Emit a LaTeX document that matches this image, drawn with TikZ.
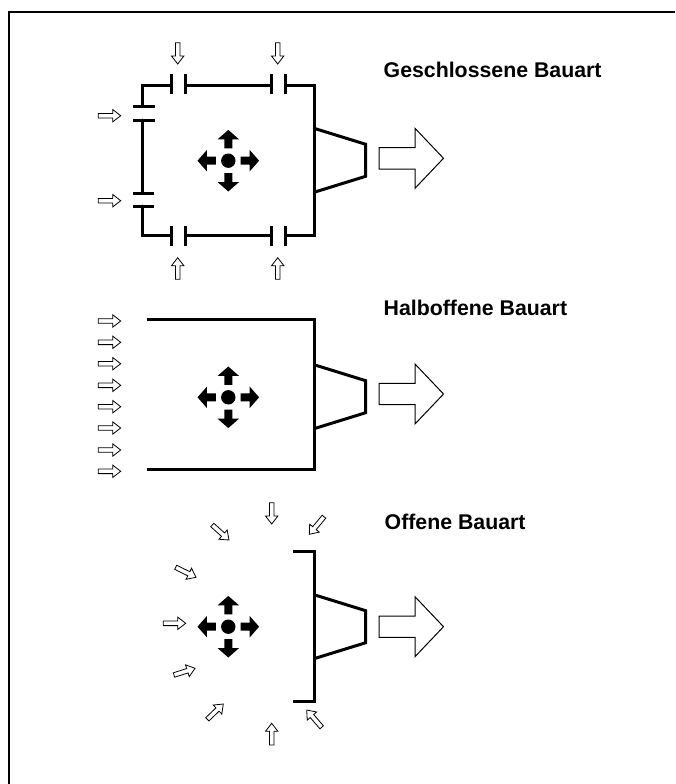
\documentclass[tikz,border=0pt]{standalone}
\usepackage{fontspec}
\setmainfont{Liberation Sans}
\tikzset{
  wall/.style={line width=3pt,line cap=round,line join=miter},
  port/.style={line width=3pt,line cap=butt},
  outflow/.style={draw,line width=1pt,fill=white,line join=miter},
  inflow/.style={draw,line width=0.8pt,fill=white,line join=miter},
  title/.style={font=\bfseries\fontsize{21.3}{24}\selectfont,anchor=base west,inner sep=0pt},
  frame/.style={draw,line width=2pt,line cap=butt}
}
% small inflow arrow: from tail (#1,#2) to tip (#3,#4)
\newcommand{\inarrow}[4]{%
  \pgfmathsetmacro\myang{atan2(-(#4-(#2)),#3-(#1))}%
  \pgfmathsetmacro\mylen{veclen(#3-(#1),#4-(#2))}%
  \pgfmathsetmacro\mybase{\mylen-8}%
  \path[inflow,shift={(#1,#2)},rotate=\myang]
   (0,-2.3) -- (\mybase,-2.3) -- (\mybase,-6.2) -- (\mylen,0) -- (\mybase,6.2) -- (\mybase,2.3) -- (0,2.3) -- cycle;}
% outlet: nozzle centred on y=#1, large arrow centred on y=#2
\newcommand{\outlet}[2]{%
  \draw[wall,line cap=butt] (314,#1-32) -- (365.7,#1-16) -- (365.7,#1+16) -- (314,#1+32);
  \path[outflow] (379,#2-10.7) -- (415,#2-10.7) -- (415,#2-30) -- (443.5,#2) -- (415,#2+30) -- (415,#2+10.7) -- (379,#2+10.7) -- cycle;}
% central burst of four arrows with a dot
\newcommand{\burst}[1]{%
  \begin{scope}[shift={(228.3,#1)}]
    \fill (0,0) circle (7.2);
    \foreach \a in {0,90,180,270}{
      \fill[rotate=\a] (12.4,-4) -- (21.4,-4) -- (21.4,-10.7) -- (30.8,0) -- (21.4,10.7) -- (21.4,4) -- (12.4,4) -- cycle;}
  \end{scope}}
\begin{document}
\begin{tikzpicture}[x=1pt,y=-1pt]
\useasboundingbox (0,0) rectangle (675,784);
\coordinate (fa) at (9,784);
\coordinate (fb) at (9,12);
\coordinate (fc) at (675,12);
\draw[frame] (fa) -- (fb) -- (fc);

% --- Geschlossene Bauart
\node[title] (t1) at (383.5,77.3) {Geschlossene Bauart};
\coordinate (a) at (142,106.7);
\coordinate (b) at (142,85);
\coordinate (c) at (314,85);
\coordinate (d) at (314,235.7);
\coordinate (e) at (142,235.7);
\coordinate (f) at (142,206);
\draw[wall] (a) -- (b) -- (171,85);
\draw[wall] (185.7,85) -- (271.7,85);
\draw[wall] (285.7,85) -- (c) -- (d) -- (285.7,235.7);
\draw[wall] (271.7,235.7) -- (185.7,235.7);
\draw[wall] (171,235.7) -- (e) -- (f);
\draw[wall] (142,120) -- (142,193);
\foreach \px in {171,185.7,271.7,285.7}{
  \draw[port] (\px,74.3) -- (\px,94);
  \draw[port] (\px,226) -- (\px,245.7);}
\draw[port] (133.3,106.7) -- (155.3,106.7);
\draw[port] (133.3,120) -- (155.3,120);
\draw[port] (133.3,193) -- (154,193);
\draw[port] (133.3,206) -- (154,206);
\outlet{160.3}{158.3}
\burst{160.7}
\foreach \px in {177.7,277.7}{
  \inarrow{\px}{42.7}{\px}{64}
  \inarrow{\px}{279.3}{\px}{257.7}}
\foreach \py in {115.7,200.7}{\inarrow{98.3}{\py}{120.7}{\py}}

% --- Halboffene Bauart
\node[title] (t2) at (383.5,315) {Halboffene Bauart};
\coordinate (g) at (146.7,319);
\coordinate (h) at (314,319);
\coordinate (i) at (314,469);
\coordinate (j) at (146.7,469);
\draw[wall,line cap=butt] (g) -- (h) -- (i) -- (j);
\outlet{396.7}{394}
\burst{397.3}
\foreach \py in {321,342.3,363.7,385.3,406.7,428,450,471.3}{\inarrow{98.3}{\py}{120.7}{\py}}

% --- Offene Bauart
\node[title] (t3) at (384.5,529) {Offene Bauart};
\coordinate (k) at (293.3,551.7);
\coordinate (l) at (314.3,551.7);
\coordinate (m) at (314.3,701.7);
\coordinate (n) at (293.3,701.7);
\draw[wall,line cap=butt] (k) -- (l) -- (m) -- (n);
\outlet{626.7}{626.7}
\burst{626.7}
\inarrow{271.7}{502.7}{271.7}{524}
\inarrow{324}{516.7}{309.3}{534.3}
\inarrow{212.3}{525}{229}{540}
\inarrow{175.7}{567.3}{196}{577.3}
\inarrow{163.3}{623.3}{185.7}{623.3}
\inarrow{174}{675}{195}{668.3}
\inarrow{207.3}{719.3}{223.3}{704}
\inarrow{271.7}{745}{271.7}{723.3}
\inarrow{321.7}{727.3}{306.7}{710}
\end{tikzpicture}
\end{document}
